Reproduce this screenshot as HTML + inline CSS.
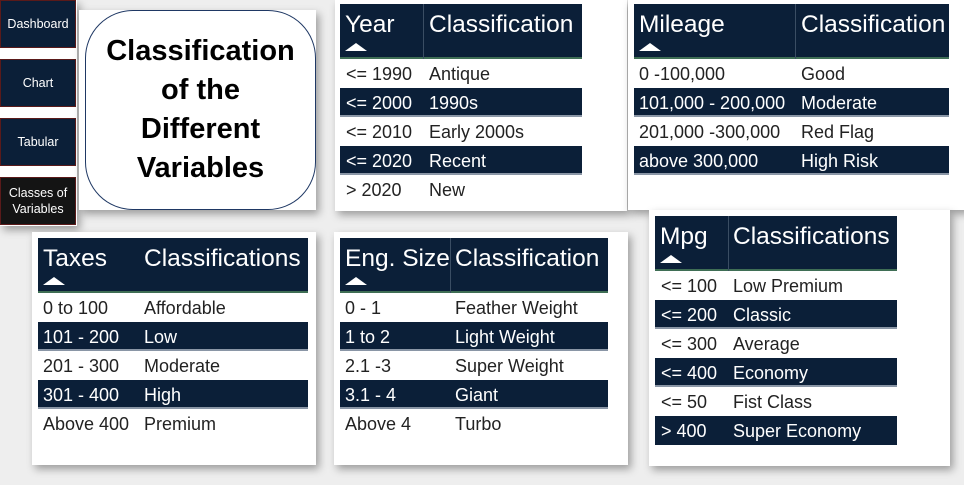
<!DOCTYPE html>
<html><head><meta charset="utf-8"><style>
*{margin:0;padding:0;box-sizing:border-box}
body{width:964px;height:485px;background:#eeeeee;position:relative;overflow:hidden;font-family:"Liberation Sans",sans-serif}
.a{position:absolute}
.card{position:absolute;background:#fff;box-shadow:3px 4px 8px rgba(0,0,0,.35)}
.nav{position:absolute;left:0;width:76px;height:48px;background:#0b1f38;color:#fff;font-size:12.5px;display:flex;align-items:center;justify-content:center;text-align:center;line-height:16px;border:1px solid #5a1a1a}
.h{position:absolute;background:#0b1f38;border-bottom:2px solid #3f6e55}
.h span{position:absolute;top:7px;color:#fff;font-size:24.5px}
.tri{position:absolute;bottom:6px;width:0;height:0;border-left:11px solid transparent;border-right:11px solid transparent;border-bottom:8px solid #fff}
.r{position:absolute;height:29px;font-size:18px;line-height:30px;color:#222}
.r.d{background:#0b1f38;color:#fff;border-bottom:2px solid #8a96a6}
.r span{position:absolute;top:0}
.vl{position:absolute;width:1px;background:#3a4d63}
</style></head><body>

<div class="a" style="left:0;top:0;width:77px;height:226px;background:#fff;box-shadow:3px 4px 8px rgba(0,0,0,.35)"></div>
<div class="nav" style="top:0">Dashboard</div>
<div class="nav" style="top:59px">Chart</div>
<div class="nav" style="top:118px">Tabular</div>
<div class="nav" style="top:177px;background:#141414">Classes of<br>Variables</div>

<div class="card" style="left:79px;top:10px;width:237px;height:200px"></div>
<div class="a" style="left:85px;top:10px;width:231px;height:200px;border:1px solid #1f3864;border-radius:48px;background:#fff;display:flex;align-items:center;justify-content:center;text-align:center;font-weight:bold;font-size:29px;line-height:39px;color:#000">Classification<br>of the<br>Different<br>Variables</div>

<!-- Year -->
<div class="card" style="left:335px;top:0;width:292px;height:211px"></div>
<div class="h" style="left:340px;top:4px;width:242px;height:55px"><span style="left:5px">Year</span><span style="left:89px">Classification</span><div class="tri" style="left:5px"></div></div>
<div class="r" style="left:340px;top:59px;width:242px"><span style="left:6px">&lt;= 1990</span><span style="left:89px">Antique</span></div>
<div class="r d" style="left:340px;top:88px;width:242px"><span style="left:6px">&lt;= 2000</span><span style="left:89px">1990s</span></div>
<div class="r" style="left:340px;top:117px;width:242px"><span style="left:6px">&lt;= 2010</span><span style="left:89px">Early 2000s</span></div>
<div class="r d" style="left:340px;top:146px;width:242px"><span style="left:6px">&lt;= 2020</span><span style="left:89px">Recent</span></div>
<div class="r" style="left:340px;top:175px;width:242px"><span style="left:6px">&gt; 2020</span><span style="left:89px">New</span></div>
<div class="vl" style="left:423px;top:4px;height:55px"></div>

<!-- Mileage -->
<div class="card" style="left:628px;top:0;width:340px;height:210px"></div>
<div class="h" style="left:634px;top:4px;width:315px;height:55px"><span style="left:5px">Mileage</span><span style="left:167px">Classification</span><div class="tri" style="left:5px"></div></div>
<div class="r" style="left:634px;top:59px;width:315px"><span style="left:5px">0 -100,000</span><span style="left:167px">Good</span></div>
<div class="r d" style="left:634px;top:88px;width:315px"><span style="left:5px">101,000 - 200,000</span><span style="left:167px">Moderate</span></div>
<div class="r" style="left:634px;top:117px;width:315px"><span style="left:5px">201,000 -300,000</span><span style="left:167px">Red Flag</span></div>
<div class="r d" style="left:634px;top:146px;width:315px"><span style="left:5px">above 300,000</span><span style="left:167px">High Risk</span></div>
<div class="vl" style="left:795px;top:4px;height:55px"></div>

<!-- Taxes -->
<div class="card" style="left:32px;top:232px;width:284px;height:233px"></div>
<div class="h" style="left:38px;top:238px;width:270px;height:55px"><span style="left:5px">Taxes</span><span style="left:106px">Classifications</span><div class="tri" style="left:5px"></div></div>
<div class="r" style="left:38px;top:293px;width:270px"><span style="left:5px">0 to 100</span><span style="left:106px">Affordable</span></div>
<div class="r d" style="left:38px;top:322px;width:270px"><span style="left:5px">101 - 200</span><span style="left:106px">Low</span></div>
<div class="r" style="left:38px;top:351px;width:270px"><span style="left:5px">201 - 300</span><span style="left:106px">Moderate</span></div>
<div class="r d" style="left:38px;top:380px;width:270px"><span style="left:5px">301 - 400</span><span style="left:106px">High</span></div>
<div class="r" style="left:38px;top:409px;width:270px"><span style="left:5px">Above 400</span><span style="left:106px">Premium</span></div>

<!-- Eng -->
<div class="card" style="left:334px;top:232px;width:294px;height:233px"></div>
<div class="h" style="left:340px;top:238px;width:268px;height:55px"><span style="left:5px">Eng. Size</span><span style="left:115px">Classification</span><div class="tri" style="left:5px"></div></div>
<div class="r" style="left:340px;top:293px;width:268px"><span style="left:5px">0 - 1</span><span style="left:115px">Feather Weight</span></div>
<div class="r d" style="left:340px;top:322px;width:268px"><span style="left:5px">1 to 2</span><span style="left:115px">Light Weight</span></div>
<div class="r" style="left:340px;top:351px;width:268px"><span style="left:5px">2.1 -3</span><span style="left:115px">Super Weight</span></div>
<div class="r d" style="left:340px;top:380px;width:268px"><span style="left:5px">3.1 - 4</span><span style="left:115px">Giant</span></div>
<div class="r" style="left:340px;top:409px;width:268px"><span style="left:5px">Above 4</span><span style="left:115px">Turbo</span></div>
<div class="vl" style="left:450px;top:238px;height:55px"></div>

<!-- Mpg -->
<div class="card" style="left:649px;top:210px;width:301px;height:256px"></div>
<div class="h" style="left:655px;top:216px;width:242px;height:55px"><span style="left:5px">Mpg</span><span style="left:78px">Classifications</span><div class="tri" style="left:5px"></div></div>
<div class="r" style="left:655px;top:271px;width:242px"><span style="left:6px">&lt;= 100</span><span style="left:78px">Low Premium</span></div>
<div class="r d" style="left:655px;top:300px;width:242px"><span style="left:6px">&lt;= 200</span><span style="left:78px">Classic</span></div>
<div class="r" style="left:655px;top:329px;width:242px"><span style="left:6px">&lt;= 300</span><span style="left:78px">Average</span></div>
<div class="r d" style="left:655px;top:358px;width:242px"><span style="left:6px">&lt;= 400</span><span style="left:78px">Economy</span></div>
<div class="r" style="left:655px;top:387px;width:242px"><span style="left:6px">&lt;= 50</span><span style="left:78px">Fist Class</span></div>
<div class="r d" style="left:655px;top:416px;width:242px;border-bottom:none"><span style="left:6px">&gt; 400</span><span style="left:78px">Super Economy</span></div>
<div class="vl" style="left:728px;top:216px;height:55px"></div>

</body></html>
